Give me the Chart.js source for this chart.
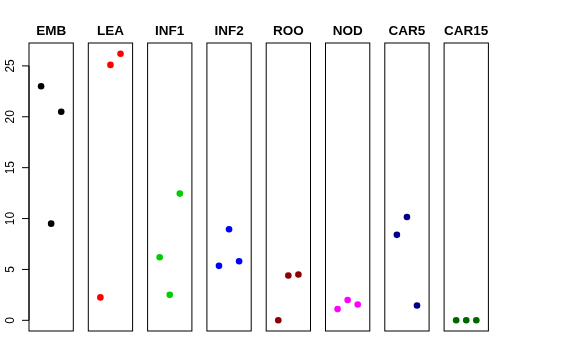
<!DOCTYPE html>
<html>
<head>
<meta charset="utf-8">
<script src="https://cdn.jsdelivr.net/npm/chart.js@4"></script>
<style>
  body { margin: 0; background: #fff; }
  #wrap { position: relative; width: 576px; height: 360px; }
  #wrap div { position: absolute; left: 0; top: 0; width: 576px; height: 360px; }
</style>
</head>
<body>
<div id="wrap"></div>
<script>
// panel names and colours
const panelNames = ['EMB', 'LEA', 'INF1', 'INF2', 'ROO', 'NOD', 'CAR5', 'CAR15'];
const panelColors = ['#000000', '#FF0000', '#00CD00', '#0000FF', '#8B0000', '#FF00FF', '#00008B', '#006400'];

// three samples per panel
const embValues = [23.0, 9.5, 20.5];
const leaValues = [2.25, 25.1, 26.2];
const inf1Values = [6.2, 2.5, 12.45];
const inf2Values = [5.35, 8.95, 5.8];
const rooValues = [0.0, 4.4, 4.5];
const nodValues = [1.1, 2.0, 1.55];
const car5Values = [8.4, 10.15, 1.45];
const car15Values = [0.0, 0.0, 0.0];

const sampleSlots = [-1, 0, 1];
const yTicks = [0, 5, 10, 15, 20, 25];

const allValues = [embValues, leaValues, inf1Values, inf2Values, rooValues, nodValues, car5Values, car15Values];

// panel boxes
const boxTop = 43, boxBottom = 331;
const firstLeft = 29, panelStep = 59.3, boxWidth = 44.3;

const panelPlugin = {
  id: 'panelBox',
  beforeDatasetsDraw(chart, args, opts) {
    const ctx = chart.ctx;
    const a = chart.chartArea;
    ctx.save();
    ctx.strokeStyle = '#000';
    ctx.lineWidth = 1;
    ctx.strokeRect(a.left, a.top, a.right - a.left, a.bottom - a.top);

    // title
    ctx.fillStyle = '#000';
    ctx.font = 'bold 13.5px "Liberation Sans", Arial, sans-serif';
    ctx.textAlign = 'center';
    ctx.textBaseline = 'alphabetic';
    ctx.fillText(opts.title, (a.left + a.right) / 2, 34.5);

    // y axis only on the first panel
    if (opts.axis) {
      const y = chart.scales.y;
      ctx.beginPath();
      ctx.moveTo(a.left, y.getPixelForValue(yTicks[0]));
      ctx.lineTo(a.left, y.getPixelForValue(yTicks[yTicks.length - 1]));
      yTicks.forEach(t => {
        const py = y.getPixelForValue(t);
        ctx.moveTo(a.left, py);
        ctx.lineTo(a.left - 7, py);
      });
      ctx.stroke();
      ctx.font = '12px "Liberation Sans", Arial, sans-serif';
      yTicks.forEach(t => {
        const py = y.getPixelForValue(t);
        ctx.save();
        ctx.translate(13.5, py);
        ctx.rotate(-Math.PI / 2);
        ctx.fillText(String(t), 0, 0);
        ctx.restore();
      });
    }
    ctx.restore();
  }
};

const wrap = document.getElementById('wrap');

panelNames.forEach((name, i) => {
  const holder = document.createElement('div');
  const canvas = document.createElement('canvas');
  holder.appendChild(canvas);
  wrap.appendChild(holder);

  const left = firstLeft + i * panelStep;
  const points = allValues[i].map((v, k) => ({ x: sampleSlots[k], y: v }));

  new Chart(canvas, {
    type: 'scatter',
    data: {
      datasets: [{
        data: points,
        backgroundColor: panelColors[i],
        borderColor: panelColors[i],
        pointRadius: 3.3,
        borderWidth: 0
      }]
    },
    options: {
      responsive: true,
      maintainAspectRatio: false,
      animation: false,
      events: [],
      layout: {
        padding: { left: left, right: 576 - left - boxWidth, top: boxTop, bottom: 360 - boxBottom }
      },
      scales: {
        x: { display: false, min: -2.2, max: 2.2 },
        y: { display: false, min: -1.05, max: 27.25 }
      },
      plugins: {
        legend: { display: false },
        tooltip: { enabled: false },
        panelBox: { title: name, axis: i === 0 }
      },
      clip: false
    },
    plugins: [panelPlugin]
  });
});
</script>
</body>
</html>
